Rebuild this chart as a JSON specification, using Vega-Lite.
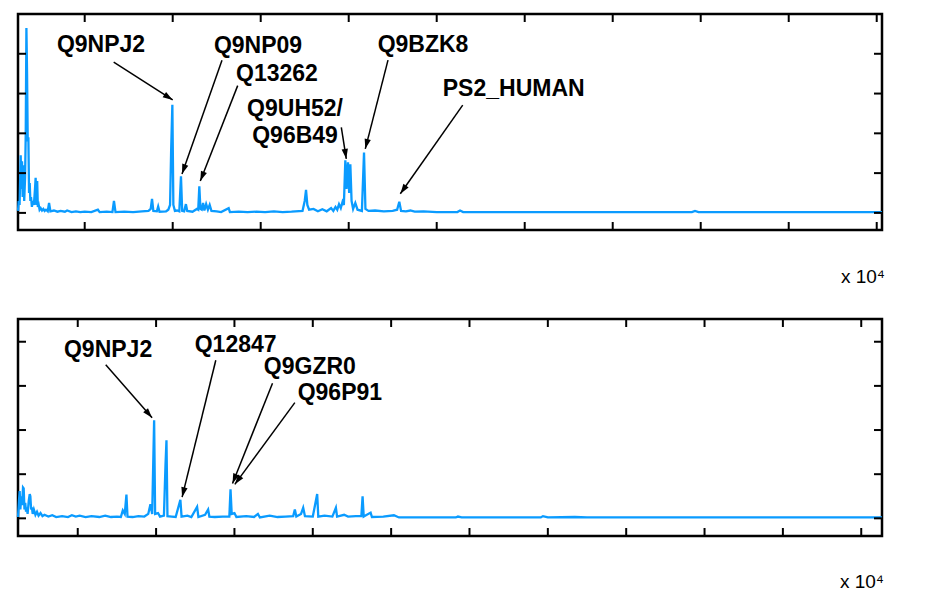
{
  "$schema": "https://vega.github.io/schema/vega-lite/v6.json",
  "autosize": {"type": "pad"},
  "padding": {"left": 12, "top": 11, "right": 2, "bottom": 0},
  "bounds": "flush",
  "spacing": 89,
  "config": {
    "view": {"stroke": "black", "strokeWidth": 2.5},
    "axis": {
      "domain": false, "grid": false, "ticks": false,
      "labelFont": "Liberation Sans", "labelFontSize": 19, "labelColor": "black",
      "titleFont": "Liberation Sans", "titleFontSize": 18, "titleFontWeight": "normal", "titleColor": "black"
    },
    "text": {"font": "Liberation Sans"}
  },
  "datasets": {
    "ticksTop": [
      {"x": 2000, "x2": 2000, "y": -0.043, "y2": -0.0229}, {"x": 4000, "x2": 4000, "y": -0.043, "y2": -0.0229},
      {"x": 6000, "x2": 6000, "y": -0.043, "y2": -0.0229}, {"x": 8000, "x2": 8000, "y": -0.043, "y2": -0.0229},
      {"x": 10000, "x2": 10000, "y": -0.043, "y2": -0.0229}, {"x": 12000, "x2": 12000, "y": -0.043, "y2": -0.0229},
      {"x": 14000, "x2": 14000, "y": -0.043, "y2": -0.0229}, {"x": 16000, "x2": 16000, "y": -0.043, "y2": -0.0229},
      {"x": 18000, "x2": 18000, "y": -0.043, "y2": -0.0229}, {"x": 20000, "x2": 20000, "y": -0.043, "y2": -0.0229},
      {"x": 2000, "x2": 2000, "y": 0.5, "y2": 0.4799}, {"x": 4000, "x2": 4000, "y": 0.5, "y2": 0.4799},
      {"x": 6000, "x2": 6000, "y": 0.5, "y2": 0.4799}, {"x": 8000, "x2": 8000, "y": 0.5, "y2": 0.4799},
      {"x": 10000, "x2": 10000, "y": 0.5, "y2": 0.4799}, {"x": 12000, "x2": 12000, "y": 0.5, "y2": 0.4799},
      {"x": 14000, "x2": 14000, "y": 0.5, "y2": 0.4799}, {"x": 16000, "x2": 16000, "y": 0.5, "y2": 0.4799},
      {"x": 18000, "x2": 18000, "y": 0.5, "y2": 0.4799}, {"x": 20000, "x2": 20000, "y": 0.5, "y2": 0.4799},
      {"x": 484, "x2": 666, "y": 0, "y2": 0}, {"x": 484, "x2": 666, "y": 0.1, "y2": 0.1},
      {"x": 484, "x2": 666, "y": 0.2, "y2": 0.2}, {"x": 484, "x2": 666, "y": 0.3, "y2": 0.3},
      {"x": 484, "x2": 666, "y": 0.4, "y2": 0.4}, {"x": 484, "x2": 666, "y": 0.5, "y2": 0.5},
      {"x": 20120, "x2": 19938, "y": 0, "y2": 0}, {"x": 20120, "x2": 19938, "y": 0.1, "y2": 0.1},
      {"x": 20120, "x2": 19938, "y": 0.2, "y2": 0.2}, {"x": 20120, "x2": 19938, "y": 0.3, "y2": 0.3},
      {"x": 20120, "x2": 19938, "y": 0.4, "y2": 0.4}, {"x": 20120, "x2": 19938, "y": 0.5, "y2": 0.5}
    ],
    "ticksBottom": [
      {"x": 2000, "x2": 2000, "y": -0.04, "y2": -0.0219}, {"x": 4000, "x2": 4000, "y": -0.04, "y2": -0.0219},
      {"x": 6000, "x2": 6000, "y": -0.04, "y2": -0.0219}, {"x": 8000, "x2": 8000, "y": -0.04, "y2": -0.0219},
      {"x": 10000, "x2": 10000, "y": -0.04, "y2": -0.0219}, {"x": 12000, "x2": 12000, "y": -0.04, "y2": -0.0219},
      {"x": 14000, "x2": 14000, "y": -0.04, "y2": -0.0219}, {"x": 16000, "x2": 16000, "y": -0.04, "y2": -0.0219},
      {"x": 18000, "x2": 18000, "y": -0.04, "y2": -0.0219}, {"x": 20000, "x2": 20000, "y": -0.04, "y2": -0.0219},
      {"x": 22000, "x2": 22000, "y": -0.04, "y2": -0.0219},
      {"x": 2000, "x2": 2000, "y": 0.4515, "y2": 0.4334}, {"x": 4000, "x2": 4000, "y": 0.4515, "y2": 0.4334},
      {"x": 6000, "x2": 6000, "y": 0.4515, "y2": 0.4334}, {"x": 8000, "x2": 8000, "y": 0.4515, "y2": 0.4334},
      {"x": 10000, "x2": 10000, "y": 0.4515, "y2": 0.4334}, {"x": 12000, "x2": 12000, "y": 0.4515, "y2": 0.4334},
      {"x": 14000, "x2": 14000, "y": 0.4515, "y2": 0.4334}, {"x": 16000, "x2": 16000, "y": 0.4515, "y2": 0.4334},
      {"x": 18000, "x2": 18000, "y": 0.4515, "y2": 0.4334}, {"x": 20000, "x2": 20000, "y": 0.4515, "y2": 0.4334},
      {"x": 22000, "x2": 22000, "y": 0.4515, "y2": 0.4334},
      {"x": 475, "x2": 679, "y": 0, "y2": 0}, {"x": 475, "x2": 679, "y": 0.1, "y2": 0.1},
      {"x": 475, "x2": 679, "y": 0.2, "y2": 0.2}, {"x": 475, "x2": 679, "y": 0.3, "y2": 0.3},
      {"x": 475, "x2": 679, "y": 0.4, "y2": 0.4},
      {"x": 22530, "x2": 22326, "y": 0, "y2": 0}, {"x": 22530, "x2": 22326, "y": 0.1, "y2": 0.1},
      {"x": 22530, "x2": 22326, "y": 0.2, "y2": 0.2}, {"x": 22530, "x2": 22326, "y": 0.3, "y2": 0.3},
      {"x": 22530, "x2": 22326, "y": 0.4, "y2": 0.4}
    ],
    "top": [
      {"mz": 484, "sig": 0.005}, {"mz": 500, "sig": 0.03}, {"mz": 520, "sig": 0.02}, {"mz": 545, "sig": 0.145},
      {"mz": 560, "sig": 0.06}, {"mz": 575, "sig": 0.13}, {"mz": 590, "sig": 0.04}, {"mz": 605, "sig": 0.12},
      {"mz": 625, "sig": 0.03}, {"mz": 645, "sig": 0.09}, {"mz": 660, "sig": 0.2}, {"mz": 675, "sig": 0.465},
      {"mz": 690, "sig": 0.35}, {"mz": 705, "sig": 0.18}, {"mz": 720, "sig": 0.19}, {"mz": 735, "sig": 0.05},
      {"mz": 750, "sig": 0.075}, {"mz": 765, "sig": 0.03}, {"mz": 780, "sig": 0.04}, {"mz": 800, "sig": 0.015},
      {"mz": 820, "sig": 0.03}, {"mz": 845, "sig": 0.02}, {"mz": 870, "sig": 0.06}, {"mz": 885, "sig": 0.088},
      {"mz": 900, "sig": 0.02}, {"mz": 920, "sig": 0.08}, {"mz": 935, "sig": 0.015}, {"mz": 955, "sig": 0.02},
      {"mz": 975, "sig": 0.008}, {"mz": 1000, "sig": 0.012}, {"mz": 1030, "sig": 0.006}, {"mz": 1060, "sig": 0.01},
      {"mz": 1090, "sig": 0.005}, {"mz": 1120, "sig": 0.008}, {"mz": 1160, "sig": 0.004}, {"mz": 1190, "sig": 0.025},
      {"mz": 1220, "sig": 0.004}, {"mz": 1300, "sig": 0.006}, {"mz": 1380, "sig": 0.003}, {"mz": 1450, "sig": 0.005},
      {"mz": 1550, "sig": 0.003}, {"mz": 1600, "sig": 0.006}, {"mz": 1700, "sig": 0.002}, {"mz": 1800, "sig": 0.004},
      {"mz": 1900, "sig": 0.002}, {"mz": 2000, "sig": 0.003}, {"mz": 2150, "sig": 0.002}, {"mz": 2300, "sig": 0.008},
      {"mz": 2340, "sig": 0.002}, {"mz": 2500, "sig": 0.003}, {"mz": 2630, "sig": 0.002}, {"mz": 2665, "sig": 0.03},
      {"mz": 2700, "sig": 0.002}, {"mz": 2900, "sig": 0.003}, {"mz": 3100, "sig": 0.002}, {"mz": 3300, "sig": 0.004},
      {"mz": 3450, "sig": 0.005}, {"mz": 3500, "sig": 0.01}, {"mz": 3530, "sig": 0.035}, {"mz": 3560, "sig": 0.005},
      {"mz": 3640, "sig": 0.004}, {"mz": 3670, "sig": 0.016}, {"mz": 3700, "sig": 0.003}, {"mz": 3850, "sig": 0.004},
      {"mz": 3900, "sig": 0.008}, {"mz": 3940, "sig": 0.02}, {"mz": 3965, "sig": 0.16}, {"mz": 3992, "sig": 0.272},
      {"mz": 4015, "sig": 0.02}, {"mz": 4050, "sig": 0.005}, {"mz": 4100, "sig": 0.006}, {"mz": 4150, "sig": 0.004},
      {"mz": 4188, "sig": 0.092}, {"mz": 4215, "sig": 0.005}, {"mz": 4260, "sig": 0.004}, {"mz": 4300, "sig": 0.022},
      {"mz": 4330, "sig": 0.005}, {"mz": 4450, "sig": 0.003}, {"mz": 4550, "sig": 0.01}, {"mz": 4580, "sig": 0.008},
      {"mz": 4605, "sig": 0.067}, {"mz": 4630, "sig": 0.01}, {"mz": 4660, "sig": 0.008}, {"mz": 4690, "sig": 0.025},
      {"mz": 4720, "sig": 0.006}, {"mz": 4760, "sig": 0.022}, {"mz": 4800, "sig": 0.008}, {"mz": 4840, "sig": 0.02},
      {"mz": 4880, "sig": 0.005}, {"mz": 5000, "sig": 0.004}, {"mz": 5100, "sig": 0.002}, {"mz": 5272, "sig": 0.012},
      {"mz": 5300, "sig": 0.002}, {"mz": 5500, "sig": 0.003}, {"mz": 5700, "sig": 0.002}, {"mz": 5900, "sig": 0.003},
      {"mz": 6100, "sig": 0.002}, {"mz": 6300, "sig": 0.004}, {"mz": 6500, "sig": 0.002}, {"mz": 6700, "sig": 0.003},
      {"mz": 6950, "sig": 0.005}, {"mz": 7000, "sig": 0.03}, {"mz": 7030, "sig": 0.058}, {"mz": 7060, "sig": 0.02},
      {"mz": 7100, "sig": 0.008}, {"mz": 7200, "sig": 0.01}, {"mz": 7300, "sig": 0.004}, {"mz": 7400, "sig": 0.009},
      {"mz": 7500, "sig": 0.004}, {"mz": 7600, "sig": 0.012}, {"mz": 7650, "sig": 0.005}, {"mz": 7700, "sig": 0.015},
      {"mz": 7740, "sig": 0.008}, {"mz": 7780, "sig": 0.022}, {"mz": 7820, "sig": 0.012}, {"mz": 7860, "sig": 0.028},
      {"mz": 7890, "sig": 0.02}, {"mz": 7923, "sig": 0.132},
      {"mz": 7950, "sig": 0.06}, {"mz": 7984, "sig": 0.127}, {"mz": 8010, "sig": 0.05}, {"mz": 8037, "sig": 0.122},
      {"mz": 8065, "sig": 0.03}, {"mz": 8100, "sig": 0.01}, {"mz": 8150, "sig": 0.025}, {"mz": 8200, "sig": 0.008},
      {"mz": 8300, "sig": 0.005}, {"mz": 8348, "sig": 0.152}, {"mz": 8380, "sig": 0.01}, {"mz": 8450, "sig": 0.005},
      {"mz": 8600, "sig": 0.006}, {"mz": 8800, "sig": 0.004}, {"mz": 9000, "sig": 0.005}, {"mz": 9100, "sig": 0.008},
      {"mz": 9150, "sig": 0.028}, {"mz": 9190, "sig": 0.005}, {"mz": 9300, "sig": 0.004}, {"mz": 9400, "sig": 0.006},
      {"mz": 9500, "sig": 0.003}, {"mz": 9700, "sig": 0.004}, {"mz": 10000, "sig": 0.002}, {"mz": 10470, "sig": 0.002},
      {"mz": 10530, "sig": 0.006}, {"mz": 10600, "sig": 0.002}, {"mz": 12000, "sig": 0.002}, {"mz": 14000, "sig": 0.002},
      {"mz": 15800, "sig": 0.002}, {"mz": 15870, "sig": 0.005}, {"mz": 15950, "sig": 0.002}, {"mz": 18000, "sig": 0.002},
      {"mz": 20120, "sig": 0.002}
    ],
    "bottom": [
      {"mz": 475, "sig": 0.003}, {"mz": 500, "sig": 0.04}, {"mz": 518, "sig": 0.062}, {"mz": 535, "sig": 0.02},
      {"mz": 560, "sig": 0.05}, {"mz": 580, "sig": 0.03}, {"mz": 603, "sig": 0.07}, {"mz": 620, "sig": 0.068},
      {"mz": 640, "sig": 0.02}, {"mz": 660, "sig": 0.035}, {"mz": 680, "sig": 0.015}, {"mz": 700, "sig": 0.025},
      {"mz": 720, "sig": 0.01}, {"mz": 750, "sig": 0.04}, {"mz": 774, "sig": 0.055}, {"mz": 790, "sig": 0.05},
      {"mz": 810, "sig": 0.02}, {"mz": 830, "sig": 0.025}, {"mz": 850, "sig": 0.01}, {"mz": 880, "sig": 0.02},
      {"mz": 920, "sig": 0.008}, {"mz": 960, "sig": 0.015}, {"mz": 1000, "sig": 0.006}, {"mz": 1050, "sig": 0.012},
      {"mz": 1100, "sig": 0.005}, {"mz": 1150, "sig": 0.008}, {"mz": 1250, "sig": 0.004}, {"mz": 1350, "sig": 0.007},
      {"mz": 1450, "sig": 0.003}, {"mz": 1600, "sig": 0.005}, {"mz": 1750, "sig": 0.003}, {"mz": 1850, "sig": 0.007},
      {"mz": 1950, "sig": 0.004}, {"mz": 2050, "sig": 0.006}, {"mz": 2200, "sig": 0.003}, {"mz": 2350, "sig": 0.005},
      {"mz": 2550, "sig": 0.003}, {"mz": 2700, "sig": 0.006}, {"mz": 2850, "sig": 0.003}, {"mz": 3000, "sig": 0.004},
      {"mz": 3100, "sig": 0.003}, {"mz": 3150, "sig": 0.018}, {"mz": 3200, "sig": 0.01}, {"mz": 3243, "sig": 0.054},
      {"mz": 3270, "sig": 0.004}, {"mz": 3400, "sig": 0.003}, {"mz": 3550, "sig": 0.005}, {"mz": 3700, "sig": 0.004},
      {"mz": 3800, "sig": 0.01}, {"mz": 3856, "sig": 0.032}, {"mz": 3900, "sig": 0.01}, {"mz": 3950, "sig": 0.222},
      {"mz": 3975, "sig": 0.01}, {"mz": 4050, "sig": 0.012}, {"mz": 4100, "sig": 0.004}, {"mz": 4200, "sig": 0.006},
      {"mz": 4240, "sig": 0.12}, {"mz": 4265, "sig": 0.177}, {"mz": 4290, "sig": 0.005}, {"mz": 4400, "sig": 0.004},
      {"mz": 4500, "sig": 0.003}, {"mz": 4620, "sig": 0.042}, {"mz": 4650, "sig": 0.004}, {"mz": 4800, "sig": 0.006},
      {"mz": 4900, "sig": 0.003}, {"mz": 5047, "sig": 0.026}, {"mz": 5080, "sig": 0.003}, {"mz": 5250, "sig": 0.008},
      {"mz": 5328, "sig": 0.02}, {"mz": 5360, "sig": 0.004}, {"mz": 5500, "sig": 0.003}, {"mz": 5700, "sig": 0.004},
      {"mz": 5870, "sig": 0.004}, {"mz": 5900, "sig": 0.066}, {"mz": 5930, "sig": 0.01}, {"mz": 6000, "sig": 0.012},
      {"mz": 6050, "sig": 0.003}, {"mz": 6300, "sig": 0.005}, {"mz": 6500, "sig": 0.003}, {"mz": 6600, "sig": 0.01},
      {"mz": 6650, "sig": 0.002}, {"mz": 6900, "sig": 0.006}, {"mz": 7100, "sig": 0.003}, {"mz": 7300, "sig": 0.004},
      {"mz": 7500, "sig": 0.005}, {"mz": 7542, "sig": 0.02}, {"mz": 7580, "sig": 0.004}, {"mz": 7700, "sig": 0.01},
      {"mz": 7755, "sig": 0.024}, {"mz": 7800, "sig": 0.005}, {"mz": 8000, "sig": 0.004}, {"mz": 8112, "sig": 0.055},
      {"mz": 8140, "sig": 0.004}, {"mz": 8300, "sig": 0.006}, {"mz": 8500, "sig": 0.004}, {"mz": 8590, "sig": 0.024},
      {"mz": 8620, "sig": 0.004}, {"mz": 8800, "sig": 0.008}, {"mz": 8900, "sig": 0.004}, {"mz": 9100, "sig": 0.005},
      {"mz": 9240, "sig": 0.005}, {"mz": 9271, "sig": 0.05}, {"mz": 9300, "sig": 0.004}, {"mz": 9476, "sig": 0.013},
      {"mz": 9510, "sig": 0.003}, {"mz": 9800, "sig": 0.004}, {"mz": 10071, "sig": 0.007}, {"mz": 10200, "sig": 0.002},
      {"mz": 11650, "sig": 0.002}, {"mz": 11705, "sig": 0.004}, {"mz": 11800, "sig": 0.002}, {"mz": 13820, "sig": 0.002},
      {"mz": 13876, "sig": 0.005}, {"mz": 14000, "sig": 0.002}, {"mz": 14690, "sig": 0.003}, {"mz": 15000, "sig": 0.002},
      {"mz": 18000, "sig": 0.002}, {"mz": 22530, "sig": 0.002}
    ],
    "arrowsTop": [
      {"x": 2659, "y": 0.379, "x2": 4000, "y2": 0.284},
      {"x": 5120, "y": 0.384, "x2": 4211, "y2": 0.098},
      {"x": 5477, "y": 0.320, "x2": 4627, "y2": 0.080},
      {"x": 7832, "y": 0.215, "x2": 7945, "y2": 0.136},
      {"x": 8893, "y": 0.384, "x2": 8377, "y2": 0.161},
      {"x": 10591, "y": 0.271, "x2": 9173, "y2": 0.048}
    ],
    "labelsTop": [
      {"label": "Q9NPJ2", "x": 2370, "y": 0.422},
      {"label": "Q9NP09", "x": 5939, "y": 0.42},
      {"label": "Q13262", "x": 6370, "y": 0.348},
      {"label": "Q9UH52/\nQ96B49", "x": 6780, "y": 0.261},
      {"label": "Q9BZK8", "x": 9689, "y": 0.421},
      {"label": "PS2_HUMAN", "x": 11750, "y": 0.312}
    ],
    "arrowsBottom": [
      {"x": 2715, "y": 0.348, "x2": 3898, "y2": 0.228},
      {"x": 5524, "y": 0.358, "x2": 4664, "y2": 0.048},
      {"x": 6972, "y": 0.306, "x2": 5951, "y2": 0.079},
      {"x": 7542, "y": 0.262, "x2": 6010, "y2": 0.077}
    ],
    "labelsBottom": [
      {"label": "Q9NPJ2", "x": 2774, "y": 0.382},
      {"label": "Q12847", "x": 6030, "y": 0.392},
      {"label": "Q9GZR0", "x": 7925, "y": 0.342},
      {"label": "Q96P91", "x": 8691, "y": 0.283}
    ]
  },
  "vconcat": [
    {
      "width": 864, "height": 216,
      "layer": [
        {
          "data": {"name": "top"},
          "mark": {"type": "line", "color": "#0a9bff", "strokeWidth": 2.3},
          "encoding": {
            "x": {"field": "mz", "type": "quantitative",
                  "scale": {"domain": [484, 20120], "nice": false, "zero": false},
                  "axis": {"orient": "bottom", "values": [2000, 4000, 6000, 8000, 10000, 12000, 14000, 16000, 18000, 20000],
                           "labelExpr": "format(datum.value/10000, '~g')", "labelPadding": 8, "title": "m/z", "titlePadding": 4}},
            "y": {"field": "sig", "type": "quantitative",
                  "scale": {"domain": [-0.043, 0.5], "nice": false, "zero": false},
                  "axis": {"orient": "left", "values": [0, 0.1, 0.2, 0.3, 0.4, 0.5], "format": "~g",
                           "labelPadding": 4, "title": "Significance", "titlePadding": 4}}
          }
        },
        {
          "data": {"name": "ticksTop"},
          "mark": {"type": "rule", "color": "black", "strokeWidth": 2},
          "encoding": {
            "x": {"field": "x", "type": "quantitative", "axis": null},
            "x2": {"field": "x2"},
            "y": {"field": "y", "type": "quantitative", "axis": null},
            "y2": {"field": "y2"}
          }
        },
        {
          "data": {"name": "arrowsTop"},
          "mark": {"type": "rule", "color": "black", "strokeWidth": 1.5},
          "encoding": {
            "x": {"field": "x", "type": "quantitative", "axis": null},
            "x2": {"field": "x2"},
            "y": {"field": "y", "type": "quantitative", "axis": null},
            "y2": {"field": "y2"}
          }
        },
        {
          "data": {"name": "arrowsTop"},
          "transform": [{"calculate": "atan2((datum.x2-datum.x)*0.044, (datum.y2-datum.y)*397.8)*180/PI", "as": "ang"}],
          "mark": {"type": "point", "shape": "M0,0L-0.45,1.4L0.45,1.4Z", "filled": true, "color": "black", "opacity": 1, "size": 200},
          "encoding": {
            "x": {"field": "x2", "type": "quantitative", "axis": null},
            "y": {"field": "y2", "type": "quantitative", "axis": null},
            "angle": {"field": "ang", "type": "quantitative", "scale": null}
          }
        },
        {
          "data": {"name": "labelsTop"},
          "mark": {"type": "text", "fontWeight": "bold", "fontSize": 23, "color": "black", "align": "center", "baseline": "middle", "lineBreak": "\n", "lineHeight": 27},
          "encoding": {
            "x": {"field": "x", "type": "quantitative", "axis": null},
            "y": {"field": "y", "type": "quantitative", "axis": null},
            "text": {"field": "label"}
          }
        },
        {
          "data": {"values": [{"t": "x 10⁴"}]},
          "mark": {"type": "text", "fontSize": 19, "color": "black", "align": "right", "baseline": "alphabetic", "dx": 3},
          "encoding": {
            "x": {"datum": 20120, "type": "quantitative", "axis": null},
            "y": {"datum": -0.176, "type": "quantitative", "axis": null},
            "text": {"field": "t"}
          }
        }
      ]
    },
    {
      "width": 864, "height": 217,
      "layer": [
        {
          "data": {"name": "bottom"},
          "mark": {"type": "line", "color": "#0a9bff", "strokeWidth": 2.3},
          "encoding": {
            "x": {"field": "mz", "type": "quantitative",
                  "scale": {"domain": [475, 22530], "nice": false, "zero": false},
                  "axis": {"orient": "bottom", "values": [2000, 4000, 6000, 8000, 10000, 12000, 14000, 16000, 18000, 20000, 22000],
                           "labelExpr": "format(datum.value/10000, '~g')", "labelPadding": 8, "title": "m/z", "titlePadding": 4}},
            "y": {"field": "sig", "type": "quantitative",
                  "scale": {"domain": [-0.04, 0.4515], "nice": false, "zero": false},
                  "axis": {"orient": "left", "values": [0, 0.1, 0.2, 0.3, 0.4], "format": "~g",
                           "labelPadding": 4, "title": "Significance", "titlePadding": 4}}
          }
        },
        {
          "data": {"name": "ticksBottom"},
          "mark": {"type": "rule", "color": "black", "strokeWidth": 2},
          "encoding": {
            "x": {"field": "x", "type": "quantitative", "axis": null},
            "x2": {"field": "x2"},
            "y": {"field": "y", "type": "quantitative", "axis": null},
            "y2": {"field": "y2"}
          }
        },
        {
          "data": {"name": "arrowsBottom"},
          "mark": {"type": "rule", "color": "black", "strokeWidth": 1.5},
          "encoding": {
            "x": {"field": "x", "type": "quantitative", "axis": null},
            "x2": {"field": "x2"},
            "y": {"field": "y", "type": "quantitative", "axis": null},
            "y2": {"field": "y2"}
          }
        },
        {
          "data": {"name": "arrowsBottom"},
          "transform": [{"calculate": "atan2((datum.x2-datum.x)*0.03917, (datum.y2-datum.y)*441.5)*180/PI", "as": "ang"}],
          "mark": {"type": "point", "shape": "M0,0L-0.45,1.4L0.45,1.4Z", "filled": true, "color": "black", "opacity": 1, "size": 200},
          "encoding": {
            "x": {"field": "x2", "type": "quantitative", "axis": null},
            "y": {"field": "y2", "type": "quantitative", "axis": null},
            "angle": {"field": "ang", "type": "quantitative", "scale": null}
          }
        },
        {
          "data": {"name": "labelsBottom"},
          "mark": {"type": "text", "fontWeight": "bold", "fontSize": 23, "color": "black", "align": "center", "baseline": "middle"},
          "encoding": {
            "x": {"field": "x", "type": "quantitative", "axis": null},
            "y": {"field": "y", "type": "quantitative", "axis": null},
            "text": {"field": "label"}
          }
        },
        {
          "data": {"values": [{"t": "x 10⁴"}]},
          "mark": {"type": "text", "fontSize": 19, "color": "black", "align": "right", "baseline": "alphabetic", "dx": 2},
          "encoding": {
            "x": {"datum": 22530, "type": "quantitative", "axis": null},
            "y": {"datum": -0.157, "type": "quantitative", "axis": null},
            "text": {"field": "t"}
          }
        }
      ]
    }
  ]
}
